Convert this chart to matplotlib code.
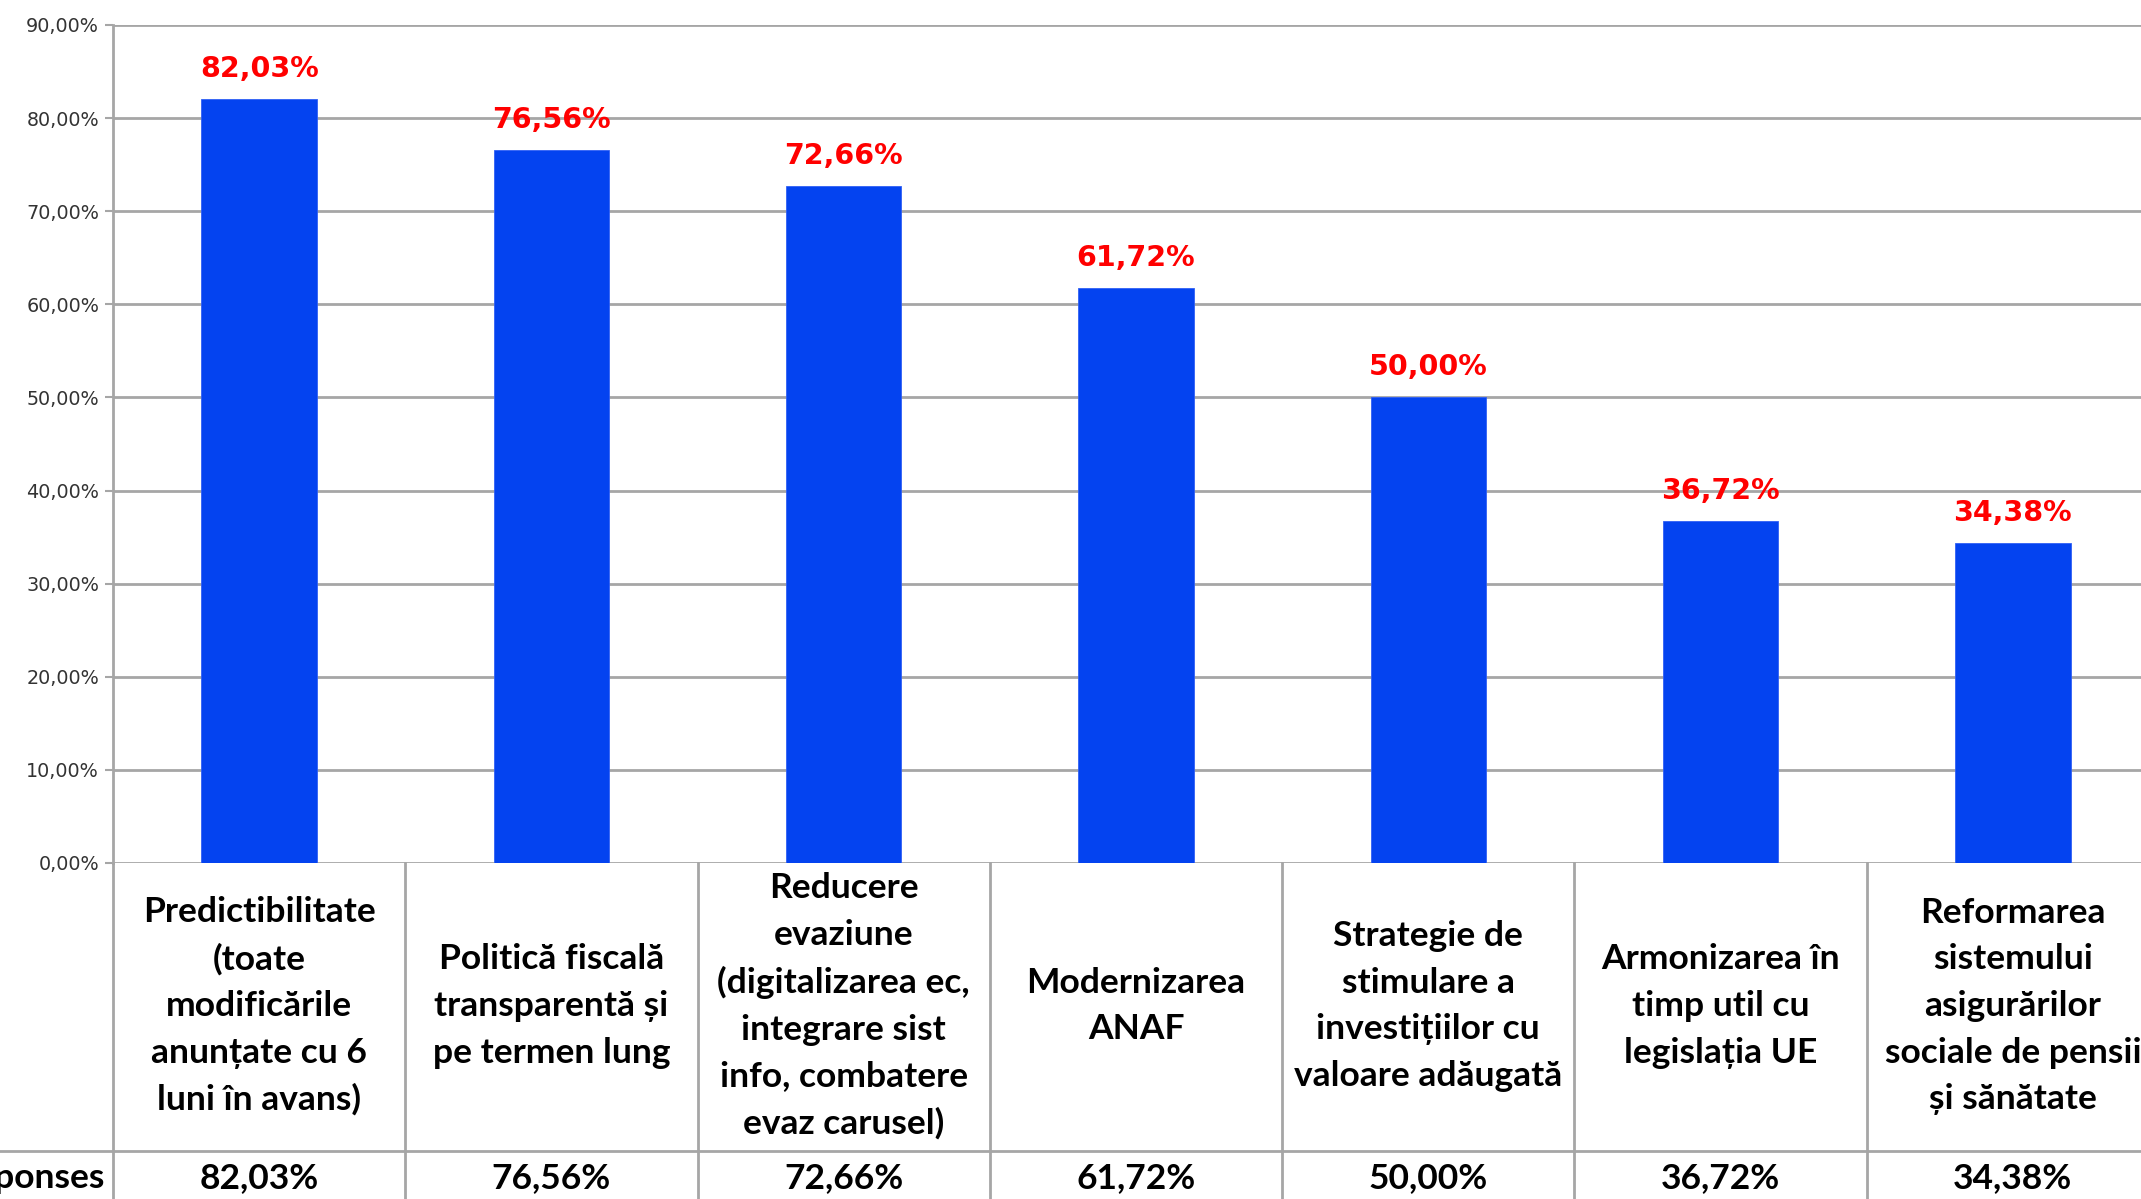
import numpy as np
import matplotlib
matplotlib.use('Agg')
import matplotlib.pyplot as plt
from matplotlib.ticker import FixedLocator, FuncFormatter

# data
categories = [
    "Predictibilitate\n(toate\nmodificările\nanunțate cu 6\nluni în avans)",
    "Politică fiscală\ntransparentă și\npe termen lung",
    "Reducere\nevaziune\n(digitalizarea ec,\nintegrare sist\ninfo, combatere\nevaz carusel)",
    "Modernizarea\nANAF",
    "Strategie de\nstimulare a\ninvestițiilor cu\nvaloare adăugată",
    "Armonizarea în\ntimp util cu\nlegislația UE",
    "Reformarea\nsistemului\nasigurărilor\nsociale de pensii\nși sănătate",
]
values = [82.03, 76.56, 72.66, 61.72, 50.00, 36.72, 34.38]
row_label = "Responses"
yticks = [0, 10, 20, 30, 40, 50, 60, 70, 80, 90]

W, H = 2141, 1199
BLUE = '#0443F0'
GRID = '#A6A6A6'
TFONT = 'Lato'
TSIZE = 25.5

def fmt(v):
    return f"{v:.2f}".replace('.', ',') + '%'

fig = plt.figure(figsize=(W/100, H/100), dpi=100)
x0, x1 = 113, 2159
y_top, y_zero = 25, 863

ax = fig.add_axes([x0/W, 1 - y_zero/H, (x1 - x0)/W, (y_zero - y_top)/H])
n = len(values)
xs = np.arange(n) + 0.5
ax.bar(xs, values, width=0.395, color=BLUE, edgecolor='#3060F5', linewidth=0.6, zorder=3)
ax.set_xlim(0, n)
ax.set_ylim(0, 90)
ax.yaxis.set_major_locator(FixedLocator(yticks))
ax.yaxis.set_major_formatter(FuncFormatter(lambda v, p: fmt(v)))
ax.grid(axis='y', color=GRID, linewidth=2, zorder=0)
ax.set_xticks([])
for s in ['top', 'right', 'bottom']:
    ax.spines[s].set_visible(False)
ax.spines['left'].set_color(GRID)
ax.spines['left'].set_linewidth(2)
ax.tick_params(axis='y', length=6, width=1.5, color=GRID, labelsize=13.8,
               labelcolor='#333333', pad=4)
for lab in ax.get_yticklabels():
    lab.set_family('DejaVu Sans')

for x, v in zip(xs, values):
    ax.annotate(fmt(v), (x, v), xytext=(0, 16), textcoords='offset points',
                ha='center', va='baseline', color='red', fontsize=20.5,
                fontweight='bold', family='DejaVu Sans', zorder=4)

# table under the chart
tb = fig.add_axes([x0/W, 0, (x1 - x0)/W, (H - y_zero)/H])
tb.set_xlim(0, n)
tb.set_ylim(0, H - y_zero)
tb.axis('off')
for i in range(n):
    tb.plot([i, i], [0, H - y_zero], color=GRID, linewidth=2, clip_on=False)
tb.plot([-0.5, n], [H - 1151, H - 1151], color=GRID, linewidth=2, clip_on=False)
for x, c, v in zip(xs, categories, values):
    tb.text(x, H - 1006, c, ha='center', va='center', fontsize=TSIZE,
            fontweight='bold', family=TFONT, linespacing=1.56, color='black')
    tb.text(x, H - 1178, fmt(v), ha='center', va='center', fontsize=TSIZE,
            fontweight='bold', family=TFONT, color='black')
fig.text(104/W, 1 - 1178/H, row_label, ha='right', va='center', fontsize=TSIZE,
         fontweight='bold', family=TFONT, color='black')

fig.savefig('out.png', dpi=100, facecolor='white')
